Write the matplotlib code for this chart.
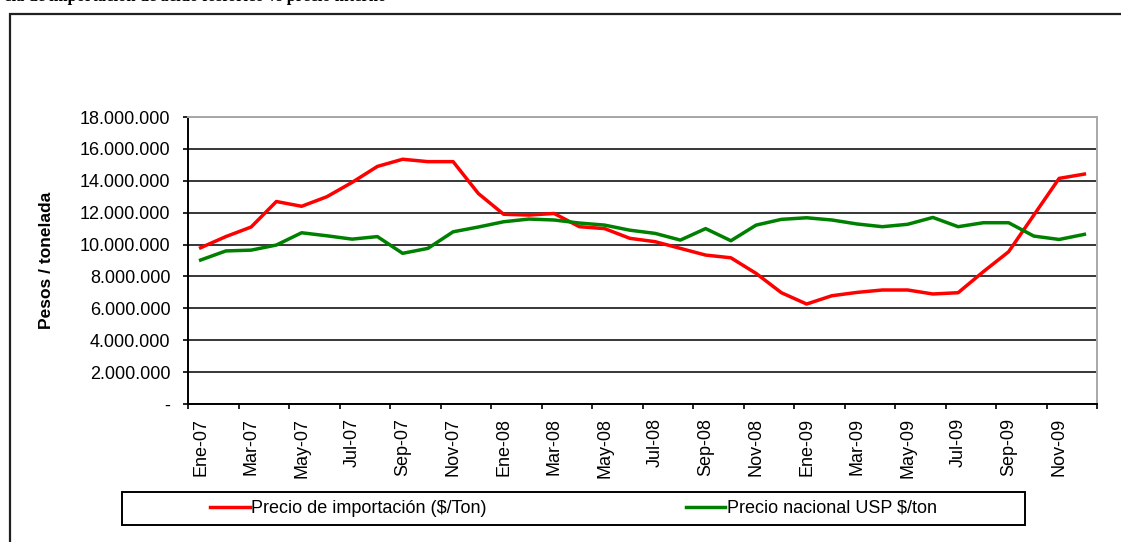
import numpy as np
import matplotlib
matplotlib.use('Agg')
import matplotlib.pyplot as plt
from matplotlib.patches import Rectangle
from matplotlib.ticker import FuncFormatter

plt.rcParams['font.family'] = ['Liberation Sans', 'DejaVu Sans']

# months Ene-07 .. Dic-09
meses = ['Ene-07', 'Feb-07', 'Mar-07', 'Abr-07', 'May-07', 'Jun-07',
         'Jul-07', 'Ago-07', 'Sep-07', 'Oct-07', 'Nov-07', 'Dic-07',
         'Ene-08', 'Feb-08', 'Mar-08', 'Abr-08', 'May-08', 'Jun-08',
         'Jul-08', 'Ago-08', 'Sep-08', 'Oct-08', 'Nov-08', 'Dic-08',
         'Ene-09', 'Feb-09', 'Mar-09', 'Abr-09', 'May-09', 'Jun-09',
         'Jul-09', 'Ago-09', 'Sep-09', 'Oct-09', 'Nov-09', 'Dic-09']

precio_importacion = [9800000, 10500000, 11100000, 12700000, 12400000, 13000000,
                      13900000, 14900000, 15350000, 15200000, 15200000, 13200000,
                      11900000, 11850000, 11950000, 11120000, 11000000, 10390000,
                      10180000, 9760000, 9340000, 9170000, 8190000, 6980000,
                      6270000, 6790000, 7000000, 7150000, 7150000, 6900000,
                      6980000, 8300000, 9550000, 11850000, 14150000, 14420000]

precio_nacional = [9030000, 9600000, 9650000, 9970000, 10740000, 10550000,
                   10340000, 10500000, 9450000, 9760000, 10800000, 11100000,
                   11430000, 11600000, 11540000, 11350000, 11220000, 10900000,
                   10700000, 10280000, 11000000, 10240000, 11220000, 11580000,
                   11680000, 11540000, 11290000, 11120000, 11270000, 11700000,
                   11120000, 11370000, 11370000, 10530000, 10320000, 10640000]

nombres = ['Precio de importación ($/Ton)', 'Precio nacional USP $/ton']
colores = ['#ff0000', '#008000']

W, H = 1121, 542
fig = plt.figure(figsize=(W/100, H/100), dpi=100)

#Outer frame of the original document figure
fig.patches.append(Rectangle((9.5/W, -0.1), 1.2, (H-13.5)/H + 0.1,
                             transform=fig.transFigure, fill=False,
                             edgecolor='#202020', linewidth=1.6))

#Caption, cut off at the top edge as in the source page
fig.text(4/W, 1-1.0/H, "cia de importación de ácido fosfórico vs precio interno",
         family=['Liberation Serif', 'DejaVu Serif'], fontweight='bold',
         fontsize=12, va='baseline', ha='left')

ax = fig.add_axes([188/W, 1-404/H, (1097-188)/W, (404-117)/H])

x = np.arange(len(meses))
lines = []
for serie, c in zip([precio_importacion, precio_nacional], colores):
    l, = ax.plot(x, serie, color=c, linewidth=2.5, solid_joinstyle='round', zorder=3)
    lines.append(l)

ax.set_xlim(-0.5, len(meses)-0.5)
ax.set_ylim(0, 18000000)

#Grid
ax.set_yticks(np.arange(0, 18000001, 2000000))
ax.yaxis.grid(True, color='black', linewidth=1.1)
ax.set_axisbelow(True)

def fmt(v, pos):
    if v == 0:
        return '-'
    return '{:,.0f}'.format(v).replace(',', '.')
ax.yaxis.set_major_formatter(FuncFormatter(fmt))

#Ticks on category boundaries, labels every two months
ax.set_xticks(np.arange(-0.5, len(meses), 2))
ax.set_xticklabels([])
ax.set_xticks(x[::2], minor=True)
ax.set_xticklabels(meses[::2], minor=True, rotation=90, fontsize=13)
ax.tick_params(axis='x', which='minor', length=0, pad=10)
ax.tick_params(axis='x', which='major', direction='out', length=3.6, width=1.2)
ax.tick_params(axis='y', direction='out', length=3.6, width=1.2, pad=9, labelsize=13)

for s in ['left', 'bottom']:
    ax.spines[s].set_color('black')
    ax.spines[s].set_linewidth(1.4)
for s in ['top', 'right']:
    ax.spines[s].set_color('#a8a8a8')
    ax.spines[s].set_linewidth(1.4)

#Axis label
fig.text(47/W, 1-260/H, 'Pesos / tonelada', rotation=90, fontweight='bold',
         fontsize=12.5, ha='center', va='center')

#Legend box below the chart
fig.patches.append(Rectangle((122/W, 1-525/H), (1025-122)/W, 33/H,
                             transform=fig.transFigure, fill=False,
                             edgecolor='black', linewidth=1.4))
fig.legend(lines, nombres, loc='center', ncol=2, frameon=False,
           bbox_to_anchor=(573.5/W, 1-508.5/H), fontsize=13,
           handlelength=2.2, handletextpad=0.1, columnspacing=11)

fig.savefig('out.png', dpi=100)
